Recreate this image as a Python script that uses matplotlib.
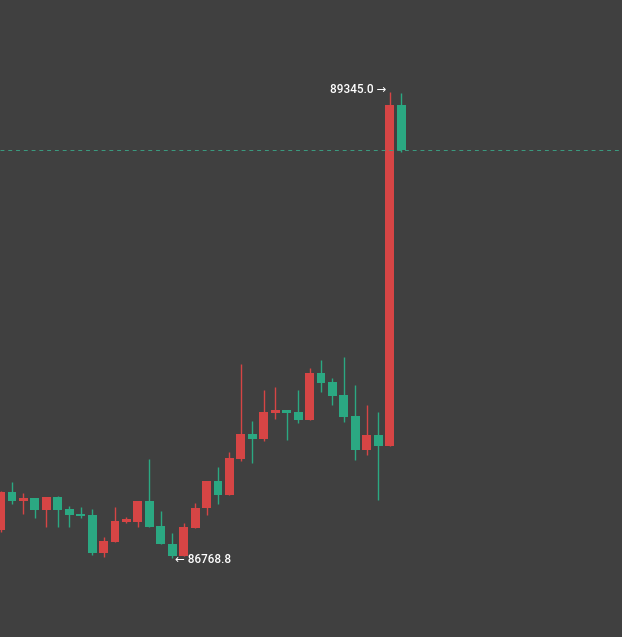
import matplotlib
matplotlib.use("Agg")
import matplotlib.pyplot as plt

opens  = [86924,87134,87084,87101,87034,87106,87040,87012,87007,86797,86857,86968,86968,87084,86946,86846,86780,86935,87045,87195,87117,87316,87454,87427,87571,87587,87576,87532,87792,87742,87670,87554,87366,87449,87388,89274]
highs  = [87140,87189,87128,87101,87106,87112,87057,87051,87040,86885,87051,86996,87084,87317,87029,86907,86963,87073,87195,87272,87355,87841,87526,87698,87714,87587,87698,87819,87864,87764,87880,87725,87615,87576,89345,89340]
lows   = [86915,87068,87012,86990,86941,86941,86941,86990,86786,86775,86857,86963,86941,86941,86846,86768.8,86780,86935,87007,87068,87117,87305,87294,87416,87537,87421,87515,87532,87687,87615,87521,87311,87338,87090,87388,89013]
closes = [87134,87084,87101,87034,87106,87034,87007,87001,86797,86863,86974,86985,87084,86941,86846,86780,86941,87045,87195,87117,87322,87454,87427,87576,87587,87571,87532,87792,87736,87665,87548,87366,87449,87388,89274,89024]
max_label = "89345.0"
min_label = "86768.8"

bg = "#404040"
up = "#d64545"
down = "#2ba882"

fig = plt.figure(figsize=(6.22, 6.37), dpi=100, facecolor=bg)
ax = fig.add_axes([0, 0, 1, 1], facecolor=bg)
for i, (o, h, l, c) in enumerate(zip(opens, highs, lows, closes)):
    col = up if c >= o else down
    ax.vlines(i, l, h, color=col, lw=1)
    b = min(o, c); hgt = max(abs(c - o), 6)
    ax.bar(i, hgt, bottom=b, width=0.78, color=col, linewidth=0)

ax.axhline(closes[-1], color="#3a9c80", lw=0.7, ls=(0, (4, 4)))
imax = highs.index(max(highs)); imin = lows.index(min(lows))
ax.annotate(max_label + " →", (imax - 0.25, max(highs) + 12), ha="right", va="center",
            color="white", fontsize=8.5, fontweight="medium", family=["Roboto", "DejaVu Sans"])
ax.annotate("← " + min_label, (imin + 0.25, min(lows) - 8), ha="left", va="center",
            color="white", fontsize=8.5, fontweight="medium", family=["Roboto", "DejaVu Sans"])
ax.set_xlim(-0.05, 54.3)
ax.set_ylim(86332, 89853.6)
ax.axis("off")
fig.savefig("out.png", facecolor=bg)
